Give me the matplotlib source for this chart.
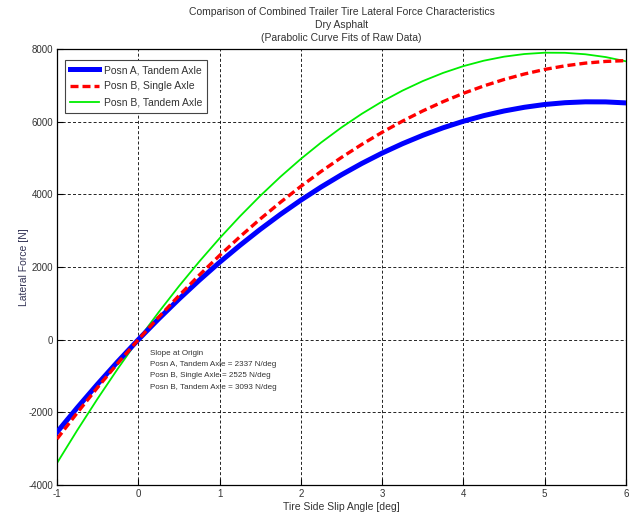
import matplotlib
matplotlib.use("Agg")
import matplotlib.pyplot as plt

plt.rcParams['font.family'] = ['Liberation Sans', 'DejaVu Sans']
plt.rcParams['axes.unicode_minus'] = False

slip_angle = [-1, -0.75, -0.5, -0.25, 0, 0.25, 0.5, 0.75, 1, 1.25, 1.5, 1.75, 2, 2.25, 2.5, 2.75,
              3, 3.25, 3.5, 3.75, 4, 4.25, 4.5, 4.75, 5, 5.25, 5.5, 5.75, 6]
posn_a_tandem = [-2546, -1870, -1221, -597, 0, 571, 1116, 1635, 2129, 2595, 3036, 3451, 3840, 4203,
                 4539, 4850, 5135, 5393, 5625, 5832, 6012, 6166, 6294, 6396, 6473, 6522, 6546, 6544, 6516]
posn_b_single = [-2733, -2010, -1314, -644, 0, 618, 1211, 1777, 2318, 2832, 3321, 3783, 4220, 4631,
                 5016, 5375, 5708, 6015, 6296, 6551, 6780, 6983, 7161, 7312, 7438, 7537, 7611, 7658, 7680]
posn_b_tandem = [-3396, -2490, -1622, -792, 0, 754, 1471, 2149, 2790, 3393, 3958, 4486, 4975, 5427,
                 5841, 6217, 6555, 6855, 7117, 7342, 7529, 7678, 7789, 7862, 7898, 7895, 7855, 7778, 7661]

x_ticks = [-1, 0, 1, 2, 3, 4, 5, 6]
y_ticks = [-4000, -2000, 0, 2000, 4000, 6000, 8000]

title_lines = ["Comparison of Combined Trailer Tire Lateral Force Characteristics",
               "Dry Asphalt",
               "(Parabolic Curve Fits of Raw Data)"]
note_lines = ["Slope at Origin",
              "Posn A, Tandem Axle = 2337 N/deg",
              "Posn B, Single Axle = 2525 N/deg",
              "Posn B, Tandem Axle = 3093 N/deg"]

txt = '#333333'
fig = plt.figure(figsize=(6.34, 5.16), dpi=100)
ax = fig.add_axes([57/634, 1-485/516, (626-57)/634, (485-49)/516])

ax.plot(slip_angle, posn_a_tandem, color='#0000ff', lw=3.6, label='Posn A, Tandem Axle', zorder=3,
        solid_joinstyle='round')
ax.plot(slip_angle, posn_b_single, color='#ff0000', lw=2.4, ls=(0, (2.4, 1.2)), label='Posn B, Single Axle',
        zorder=4)
ax.plot(slip_angle, posn_b_tandem, color='#00ee00', lw=1.3, label='Posn B, Tandem Axle', zorder=2,
        solid_joinstyle='round')

ax.set_xlim(-1, 6)
ax.set_ylim(-4000, 8000)
ax.set_xticks(x_ticks)
ax.set_yticks(y_ticks)
ax.grid(True, color='black', ls=(0, (3.6, 2.6)), lw=0.6)
ax.tick_params(direction='in', length=4, labelsize=7, colors='black', labelcolor=txt, pad=3)
for s in ax.spines.values():
    s.set_linewidth(0.9)

ax.set_xlabel('Tire Side Slip Angle [deg]', fontsize=7.5, color=txt, labelpad=2)
ax.set_ylabel('Lateral Force [N]', fontsize=7.5, color='#333355', labelpad=-1)
ax.set_title("\n".join(title_lines), fontsize=7.5, color=txt, linespacing=1.35, pad=6)

ax.text(0.15, -280, "\n".join(note_lines), fontsize=5.8, color=txt, va='top', ha='left', linespacing=1.85)

leg = ax.legend(loc='upper left', bbox_to_anchor=(0.014, 0.975), borderaxespad=0, fontsize=7.5,
                fancybox=False, edgecolor='#444444', framealpha=1, handlelength=2.8, borderpad=0.5,
                labelspacing=0.6, handletextpad=0.4)
leg.get_frame().set_linewidth(0.8)
for t in leg.get_texts():
    t.set_color(txt)

fig.savefig('out.png', dpi=100)
